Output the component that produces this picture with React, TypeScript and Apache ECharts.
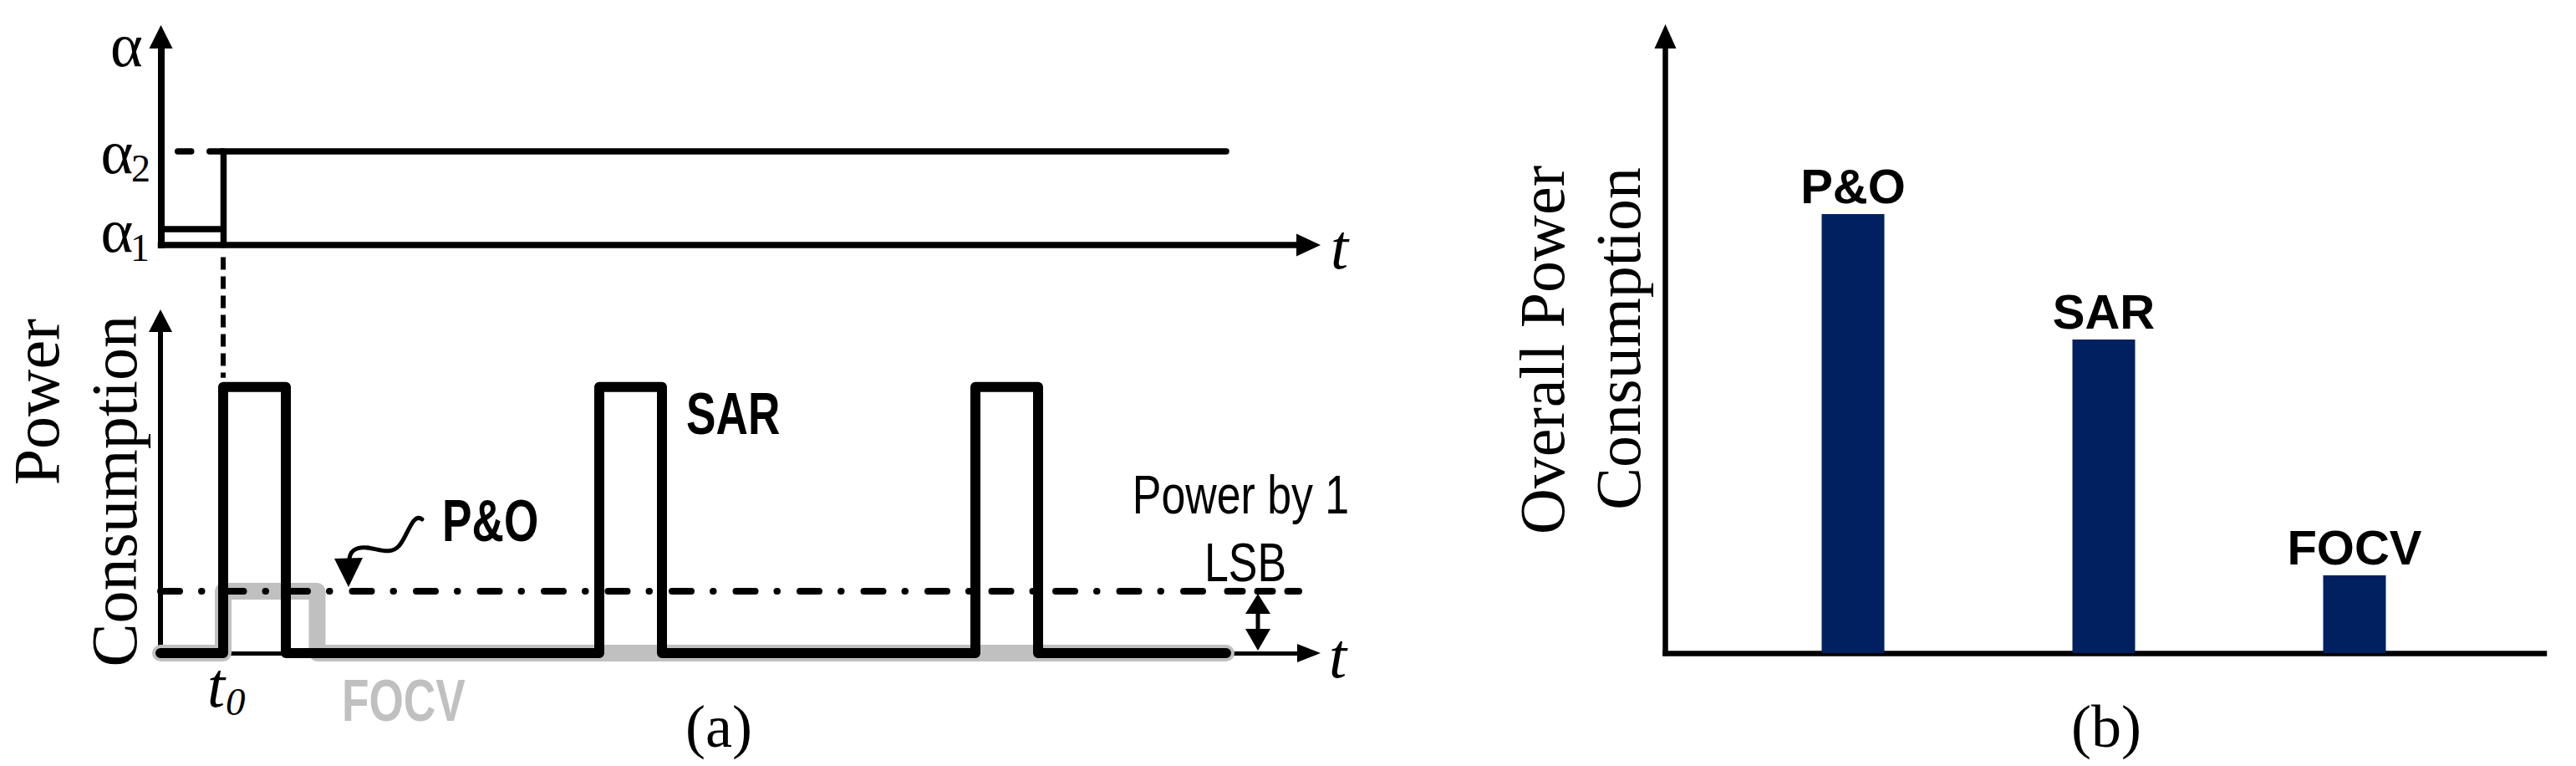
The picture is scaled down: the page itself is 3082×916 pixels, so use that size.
import React, { useEffect, useRef } from "react";
import * as echarts from "echarts";

// ---------------- Data ----------------
// (a) top: duty cycle alpha vs time
const alpha1Segment = [[0, 1], [0.5, 1]];
const alpha2Trace = [[0.5, 0], [0.5, 5.9], [8.5, 5.9]];
const alpha2Lead = [[0.135, 5.9], [0.5, 5.9]];

// (a) bottom: power consumption vs time
const sarTime = [0, 0.5, 0.5, 1, 1, 3.5, 3.5, 4, 4, 6.5, 6.5, 7, 7, 8.5];
const sarPower = [0, 0, 4.3, 4.3, 0, 0, 4.3, 4.3, 0, 0, 4.3, 4.3, 0, 0];
const focvTime = [0, 0.5, 0.5, 1.25, 1.25, 8.5];
const focvPower = [0, 0, 1, 1, 0, 0];
const poTime = [0, 8.37];
const poPower = [1, 1];
const poTailTime = [8.51, 9.08];
const poTailPower = [1, 1];
const t0Time = [0.5, 0.5];
const t0Level = [6.4, 4.45];

// (b) overall power consumption
const methods = ["P&O", "SAR", "FOCV"];
const overallPower = [5.25, 3.75, 0.93];

// ---------------- Styling ----------------
const SERIF = '"Liberation Serif", "Times New Roman", Times, serif';
const SANS = '"Liberation Sans", Arial, Helvetica, sans-serif';
const NARROW = '"Liberation Sans Narrow", "Arial Narrow", "Liberation Sans", Arial, sans-serif';
const GREY = "#c0c0c0";
const NAVY = "#002060";

const zip = (xs: number[], ys: number[]) => xs.map((x, i) => [x, ys[i]]);

const hidden = {
  axisTick: { show: false },
  axisLabel: { show: false },
  splitLine: { show: false },
};

function valueAxis(
  gridIndex: number,
  min: number,
  max: number,
  width: number,
  arrow?: { size: number[]; offset: number }
) {
  return {
    type: "value",
    gridIndex,
    min,
    max,
    ...hidden,
    axisLine: {
      show: true,
      onZero: false,
      symbol: arrow ? ["none", "triangle"] : ["none", "none"],
      symbolSize: arrow ? arrow.size : [10, 10],
      symbolOffset: [0, arrow ? arrow.offset : 0],
      lineStyle: { color: "#000", width, cap: "square" },
    },
  };
}

function lineSeries(xi: number, data: number[][], lineStyle: any, z: number, extra: any = {}) {
  return {
    type: "line",
    xAxisIndex: xi,
    yAxisIndex: xi,
    data,
    symbol: "none",
    showSymbol: false,
    silent: true,
    z,
    lineStyle: { color: "#000", ...lineStyle },
    emphasis: { disabled: true },
    ...extra,
  };
}

type LOpt = {
  size: number;
  family?: string;
  weight?: string;
  italic?: boolean;
  align?: string;
  fill?: string;
  scaleX?: number;
};

function label(text: string, x: number, baseline: number, o: LOpt) {
  const family = o.family || SERIF;
  const central = family === SERIF ? 0.338 : 0.346;
  const align = o.align || "left";
  return {
    type: "text",
    x,
    y: baseline - central * o.size,
    scaleX: o.scaleX || 1,
    silent: true,
    z: 50,
    style: {
      text,
      fontFamily: family,
      fontSize: o.size,
      fontWeight: o.weight || "normal",
      fontStyle: o.italic ? "italic" : "normal",
      fill: o.fill || "#000",
      textAlign: align,
      align,
      textVerticalAlign: "middle",
      verticalAlign: "middle",
    },
  };
}

function vlabel(text: string, baselineX: number, endY: number, size: number) {
  return {
    type: "text",
    x: baselineX - 0.338 * size,
    y: endY,
    rotation: Math.PI / 2,
    silent: true,
    z: 50,
    style: {
      text,
      fontFamily: SERIF,
      fontSize: size,
      fill: "#000",
      textAlign: "right",
      align: "right",
      textVerticalAlign: "middle",
      verticalAlign: "middle",
    },
  };
}

const bold = (size: number, scaleX: number, fill = "#000"): LOpt => ({
  size,
  family: SANS,
  weight: "bold",
  scaleX,
  fill,
});

const curveStyle = { stroke: "#000", lineWidth: 5, fill: "none", lineCap: "round" };

const graphics: any[] = [
  // alpha axis labels
  label("α", 151.5, 79, { size: 74, align: "center" }),
  label("α", 140, 207, { size: 74, align: "center" }),
  label("2", 157, 217, { size: 46 }),
  label("α", 140, 301, { size: 74, align: "center" }),
  label("1", 156, 312, { size: 46 }),
  label("t", 1592, 321, { size: 76, italic: true }),
  label("t", 1590, 810, { size: 76, italic: true }),
  label("t", 248, 845, { size: 76, italic: true }),
  label("0", 270, 855, { size: 47, italic: true }),
  vlabel("Power", 70, 381, 78),
  vlabel("Consumption", 163, 377, 78),
  label("P&O", 529, 647, bold(70, 0.76)),
  label("SAR", 821, 519, bold(70, 0.76)),
  label("FOCV", 409, 862, bold(70, 0.76, GREY)),
  label("Power by 1", 1484.5, 614, { size: 64, family: SANS, align: "center", scaleX: 0.81 }),
  label("LSB", 1490, 695, { size: 64, family: SANS, align: "center", scaleX: 0.81 }),
  label("(a)", 860, 893, { size: 72, align: "center" }),
  label("(b)", 2520, 893, { size: 72, align: "center" }),
  vlabel("Overall Power", 1871, 198, 76),
  vlabel("Consumption", 1962, 200, 76),
  // squiggly pointer to the P&O level
  {
    type: "bezierCurve",
    silent: true,
    z: 50,
    shape: { x1: 505, y1: 621, cpx1: 494, cpy1: 612, cpx2: 488, cpy2: 640, x2: 478, y2: 652 },
    style: curveStyle,
  },
  {
    type: "bezierCurve",
    silent: true,
    z: 50,
    shape: { x1: 478, y1: 652, cpx1: 468, cpy1: 664, cpx2: 455, cpy2: 657, x2: 440, y2: 655 },
    style: curveStyle,
  },
  {
    type: "bezierCurve",
    silent: true,
    z: 50,
    shape: { x1: 440, y1: 655, cpx1: 425, cpy1: 653, cpx2: 418, cpy2: 660, x2: 418, y2: 670 },
    style: curveStyle,
  },
  {
    type: "polygon",
    silent: true,
    z: 50,
    shape: { points: [[400, 668], [434, 667], [417, 702]] },
    style: { fill: "#000" },
  },
  // LSB double arrow
  {
    type: "line",
    silent: true,
    z: 50,
    shape: { x1: 1505, y1: 730, x2: 1505, y2: 756 },
    style: { stroke: "#000", lineWidth: 5 },
  },
  {
    type: "polygon",
    silent: true,
    z: 50,
    shape: { points: [[1505, 710], [1490, 734], [1520, 734]] },
    style: { fill: "#000" },
  },
  {
    type: "polygon",
    silent: true,
    z: 50,
    shape: { points: [[1505, 778], [1490, 752], [1520, 752]] },
    style: { fill: "#000" },
  },
];

const option: any = {
  animation: false,
  backgroundColor: "#ffffff",
  grid: [
    { left: 192.5, top: 51.7, width: 1364.5, height: 241.3, outerBoundsMode: "none" },
    { left: 192, top: 388.8, width: 1365, height: 392.2, outerBoundsMode: "none" },
    { left: 1992.5, top: 50, width: 1051.5, height: 731, outerBoundsMode: "none" },
    { left: 2067, top: 50, width: 900, height: 731, outerBoundsMode: "none" },
  ],
  xAxis: [
    valueAxis(0, 0, 9.1, 7.5, { size: [27, 29], offset: 8.5 }),
    valueAxis(1, 0, 9.1, 5, { size: [22, 28], offset: 9 }),
    valueAxis(2, 0, 1, 6.5),
    { type: "category", gridIndex: 3, data: methods, show: false, boundaryGap: true },
  ],
  yAxis: [
    valueAxis(0, 0, 12.7, 8, { size: [28, 28], offset: 7.7 }),
    valueAxis(1, 0, 5.3, 6, { size: [28, 27], offset: 5.3 }),
    valueAxis(2, 0, 7.31, 6.5, { size: [26, 29], offset: 6.5 }),
    { type: "value", gridIndex: 3, min: 0, max: 7.31, show: false, ...hidden },
  ],
  series: [
    lineSeries(0, alpha1Segment, { width: 7.5, cap: "butt" }, 3),
    lineSeries(0, alpha2Trace, { width: 7.5, cap: "round", join: "miter" }, 3),
    lineSeries(0, alpha2Lead, { width: 7.5, cap: "round", type: [16, 22] }, 3),
    lineSeries(1, zip(focvTime, focvPower), { width: 20, color: GREY, cap: "round", join: "round" }, 2),
    lineSeries(1, zip(poTime, poPower), { width: 8, cap: "round", type: [23, 26, 0.5, 27] }, 3),
    lineSeries(1, zip(poTailTime, poTailPower), { width: 8, cap: "round", type: [18, 18] }, 3),
    lineSeries(1, zip(sarTime, sarPower), { width: 12, cap: "round", join: "round" }, 4),
    lineSeries(1, zip(t0Time, t0Level), { width: 6, cap: "butt", type: [15, 8] }, 3, { clip: false }),
    {
      type: "bar",
      xAxisIndex: 3,
      yAxisIndex: 3,
      data: overallPower,
      barWidth: 75,
      silent: true,
      itemStyle: { color: NAVY },
      emphasis: { disabled: true },
      label: {
        show: true,
        position: "top",
        distance: 5,
        formatter: "{b}",
        color: "#000",
        fontSize: 58,
        fontWeight: "bold",
        fontFamily: NARROW,
      },
    },
  ],
  graphic: graphics,
};

export default function App() {
  const ref = useRef<HTMLDivElement>(null);
  useEffect(() => {
    if (!ref.current) return;
    const chart = echarts.init(ref.current, null, { renderer: "svg", width: 3082, height: 916 });
    chart.setOption(option);
    return () => chart.dispose();
  }, []);
  return (
    <div
      ref={ref}
      style={{ position: "fixed", left: 0, top: 0, width: 3082, height: 916, background: "#fff" }}
    />
  );
}
